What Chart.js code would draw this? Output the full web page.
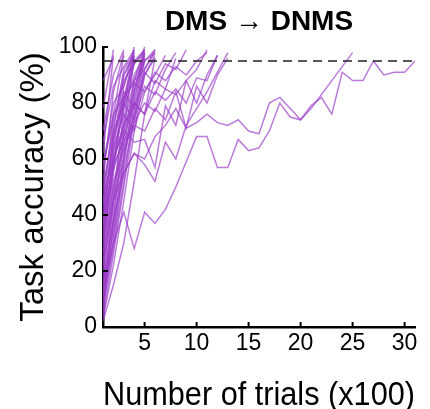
<!DOCTYPE html>
<html>
<head>
<meta charset="utf-8">
<script src="https://cdn.jsdelivr.net/npm/chart.js@4.4.1/dist/chart.umd.min.js"></script>
<style>
body{margin:0;background:#fff}
canvas{display:block}
</style>
</head>
<body>
<canvas id="chart" width="430" height="409"></canvas>
<script>

// accuracy (%) per block of 100 trials, first value = block 1
const fastRuns = [
[62, 97],
[78, 99],
[88, 96],
[52, 84, 98],
[44, 76, 97],
[70, 90, 99],
[36, 70, 92, 98],
[30, 58, 86, 100],
[24, 55, 82, 96],
[18, 48, 74, 95, 99],
[12, 40, 66, 88, 97],
[6, 32, 58, 80, 98],
[3, 22, 45, 70, 90, 97],
[2, 15, 30, 52, 76, 96],
[8, 28, 52, 78, 96],
[15, 44, 70, 84, 99],
[20, 52, 64, 86, 95, 98],
[28, 62, 78, 90, 97],
[40, 66, 82, 88, 100],
[48, 72, 88, 94, 98],
[56, 80, 86, 97],
[34, 60, 72, 88, 92, 99],
[10, 36, 62, 76, 90, 96],
[22, 46, 60, 82, 96],
[66, 86, 93, 99],
[5, 38, 70, 96],
[9, 45, 78, 97],
[14, 34, 60, 84, 98],
[26, 58, 80, 99],
[32, 64, 90, 97],
[4, 26, 50, 74, 95, 99],
[11, 30, 56, 74, 92, 98],
[38, 68, 80, 94, 99],
[58, 74, 90, 98]
]

const slowRuns = [
[42, 64, 76, 70, 84, 90, 97],
[32, 56, 68, 80, 76, 88, 85, 96],
[50, 70, 80, 74, 86, 83, 92, 98],
[46, 60, 70, 66, 67, 57, 79, 72, 88, 92, 99],
[38, 58, 66, 73, 80, 77, 85, 83, 88, 80, 90, 97],
[58, 76, 82, 87, 84, 91, 88, 93, 90, 95, 98],
[44, 68, 84, 78, 91, 87, 94, 92, 99],
[36, 60, 72, 80, 76, 84, 81, 85, 80, 89, 88, 97],
[26, 50, 64, 72, 70, 78, 74, 84, 71, 86, 80, 90, 96],
[16, 38, 55, 62, 58, 52, 66, 60, 72, 78, 84, 91, 98]
]

const longRunA = [14, 30, 41, 28, 41, 37, 42, 50, 59, 68, 68, 57, 57, 67, 63, 64, 70, 80, 75, 74, 78, 83, 88, 93, 98]
const longRunB = [22, 45, 55, 62, 60, 68, 72, 78, 71, 73, 76, 73, 72, 74, 70, 69, 80, 82, 78, 74, 79, 82, 76, 91, 88, 88, 95, 90, 91, 91, 95]

const criterion = 95
const xRange = [1, 31]
const xTicks = [5, 10, 15, 20, 25, 30]
const yTicks = [0, 20, 40, 60, 80, 100]
const titleText = "DMS \u2192 DNMS"

const fontFamily = "'Liberation Sans', Arial, sans-serif"
const purple = "rgba(155, 60, 200, 0.68)"

const allRuns = fastRuns.concat(slowRuns, [longRunA, longRunB])

function toPoints(run)
{
return run.map((v, i) => ({x: i + 1, y: v}))
}

const datasets = allRuns.map(run => ({
data: toPoints(run),
borderColor: purple,
borderWidth: 1.5,
pointRadius: 0,
tension: 0,
order: 1
}))

datasets.push({
data: [{x: xRange[0], y: criterion}, {x: xRange[1], y: criterion}],
borderColor: "#222",
borderWidth: 1.5,
borderDash: [9, 6],
pointRadius: 0,
order: 0
})

// ticks drawn inward, title centred over the plot
const extras = {
id: "extras",
afterDraw(chart)
{
const ctx = chart.ctx
const xs = chart.scales.x
const ys = chart.scales.y
const area = chart.chartArea
ctx.save()
ctx.strokeStyle = "#000"
ctx.lineWidth = 2
ctx.beginPath()
for (const v of xTicks)
{
const px = xs.getPixelForValue(v)
ctx.moveTo(px, ys.bottom)
ctx.lineTo(px, ys.bottom - 5)
}
for (const v of yTicks)
{
const py = ys.getPixelForValue(v)
ctx.moveTo(xs.left, py)
ctx.lineTo(xs.left + 5, py)
}
ctx.stroke()
ctx.fillStyle = "#000"
ctx.font = "bold 28px " + fontFamily
ctx.textAlign = "center"
ctx.textBaseline = "middle"
ctx.fillText(titleText, (area.left + area.right) / 2, 22)
ctx.restore()
}
}

new Chart(document.getElementById("chart"),
{
type: "line",
data: {datasets: datasets},
plugins: [extras],
options:
{
responsive: false,
animation: false,
layout: {padding: {left: 0, right: 15, top: 47, bottom: 0}},
plugins:
{
legend: {display: false},
tooltip: {enabled: false}
},
scales:
{
x:
{
type: "linear",
min: xRange[0],
max: xRange[1],
afterBuildTicks: scale => { scale.ticks = xTicks.map(v => ({value: v})) },
afterFit: scale => { scale.height = 82 },
grid: {display: false, drawTicks: false},
border: {display: true, color: "#000", width: 2.5},
ticks: {color: "#000", padding: 3, maxRotation: 0, font: {family: fontFamily, size: 23}},
title:
{
display: true,
text: "Number of trials (x100)",
color: "#000",
font: {family: fontFamily, size: 34},
padding: {top: 0, bottom: -7}
}
},
y:
{
min: 0,
max: 100,
afterBuildTicks: scale => { scale.ticks = yTicks.map(v => ({value: v})) },
afterFit: scale => { scale.width = 103 },
grid: {display: false, drawTicks: false},
border: {display: true, color: "#000", width: 2.5},
ticks: {color: "#000", padding: 6, font: {family: fontFamily, size: 23}},
title:
{
display: true,
text: "Task accuracy (%)",
color: "#000",
font: {family: fontFamily, size: 33},
padding: {top: 14, bottom: 0}
}
}
}
}
})

</script>
</body>
</html>
